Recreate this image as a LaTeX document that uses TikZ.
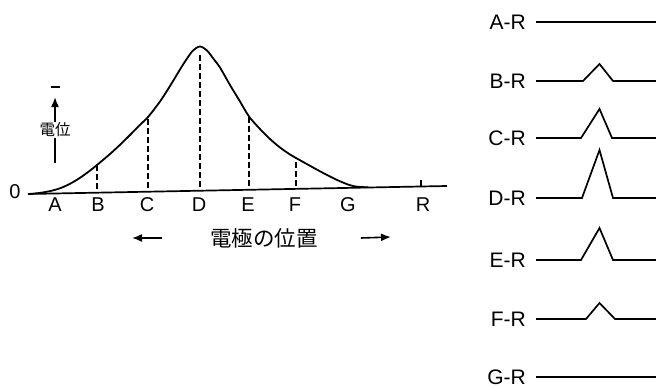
\documentclass[tikz,border=0pt]{standalone}
\usepackage{fontspec}
\setmainfont{Liberation Sans}
\newfontfamily\jp{Noto Sans CJK JP}
\usetikzlibrary{arrows.meta,positioning,calc}

\tikzset{
  lbl/.style={inner sep=0pt, font=\fontsize{20}{24}\selectfont},
  rlbl/.style={inner sep=0pt, font=\fontsize{21}{24}\selectfont},
  jlbl/.style={inner sep=1pt, font=\jp\fontsize{21.5}{24}\selectfont},
  curve/.style={line width=1.8pt, line join=round},
  guide/.style={line width=1.5pt, dash pattern=on 6pt off 3pt},
  sig/.style={line width=1.7pt, line join=miter},
  tip/.style={-{Latex[length=10pt,width=8pt]}, line width=1.6pt}
}

\begin{document}
\begin{tikzpicture}[x=1pt, y=-1pt]
\useasboundingbox (0,0) rectangle (656,388);

% potential along the electrodes
\coordinate (bl) at (28,194);
\coordinate (br) at (447,186);
\draw[line width=1.7pt] (bl) -- (br);
\node[lbl] (zero) at (15,192) {0};

\draw[curve] plot[smooth, tension=0.5] coordinates {
  (30,193.9) (40,192.9) (50,191.1) (60,188.3) (70,183.8) (80,177.8) (90,170.6)
  (97,165) (110,154) (120,144.8) (130,135) (140,124.8) (148,117) (160,101.5)
  (170,86) (180,69.5) (186,60) (193,50.5) (200,46.5) (207,50.5) (214,59.5) (220,67.5)
  (230,85) (240,101.5) (249,116.5) (260,129) (270,139) (280,147.5) (290,154.5)
  (296,158) (310,165.8) (320,171.3) (330,176.5) (340,181.3) (350,185.2) (358,186.8) (368,187.3)};

% dashed levels
\foreach \xx/\yt/\yb in {97/165/189, 148/117/187.5, 200/53/187, 249/117/186, 296/158/185.5}
  \draw[guide] (\xx,\yb) -- (\xx,\yt);

% reference tick
\draw[line width=1.5pt] (421,186.5) -- (421,180);

\foreach \nm/\xx in {A/55, B/98, C/147, D/199, E/248, F/295, G/348, R/423}
  \node[lbl] (l\nm) at (\xx,205) {\nm};

% vertical axis
\node[inner sep=1pt, font=\jp\fontsize{15.5}{18}\selectfont] (ylab) at (55,130) {電位};
\node[lbl] (minus) at (55,87) {\rule{9pt}{1.4pt}};
\coordinate (ybot) at (55,163);
\draw[line width=1.4pt] (ybot) -- (ylab.south);
\draw[tip] (ylab.north) -- (55,97);

% position axis
\node[jlbl] (xlab) at (264,238) {電極の位置};
\coordinate (lft) at (132,238);
\coordinate (rgt) at (391,237);
\draw[tip] ([xshift=-47pt]xlab.west) -- (lft);
\draw[tip] ([xshift=42pt]xlab.east) -- (rgt);

% recorded signals between pairs
\foreach \nm/\yy/\xa/\py/\xb in {A/22/583/22/613, B/81/583/64/613, C/138/581/109/612,
    D/198/582/150/613, E/260/581/228/613, F/319/586/303/615, G/377/583/377/613} {
  \node[rlbl, anchor=east] (s\nm) at (526,\yy) {\nm-R};
  \draw[sig] ([xshift=10pt]s\nm.east) -- (\xa,\yy) -- (599.5,\py) -- (\xb,\yy) -- (656,\yy);
}
\end{tikzpicture}
\end{document}
